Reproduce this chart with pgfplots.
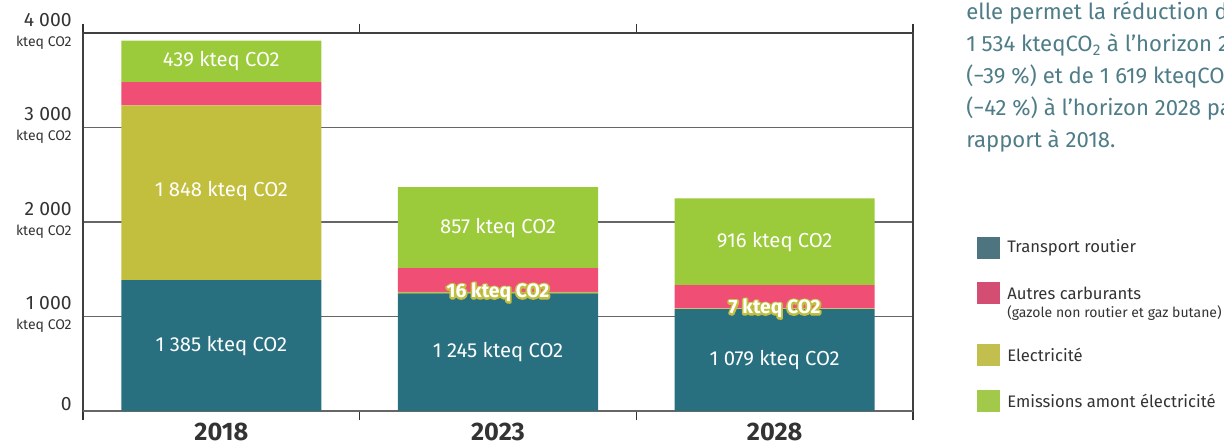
\documentclass[border=0pt]{standalone}
\usepackage{pgfplots}
\pgfplotsset{compat=1.18}
\usepackage{fontspec}
\setmainfont{Fira Sans}
\definecolor{cTrans}{HTML}{287080}
\definecolor{cAutres}{HTML}{F04E74}
\definecolor{cElec}{HTML}{C3BF3E}
\definecolor{cEmis}{HTML}{9BCA3B}
\definecolor{lTrans}{HTML}{4E7480}
\definecolor{lAutres}{HTML}{D34E72}
\definecolor{lElec}{HTML}{C3BF4E}
\definecolor{lEmis}{HTML}{A3C94A}
\definecolor{cText}{HTML}{333333}
\definecolor{cPara}{HTML}{4E7C87}
\definecolor{cGrid}{HTML}{666666}
\newcommand{\kt}{{\fontsize{10.5}{11}\selectfont kteq CO2}}
\newcommand{\strokeon}{\special{pdf:literal direct 1 Tr 2.6 w 1 j 0.765 0.749 0.243 RG}}
\newcommand{\strokeoff}{\special{pdf:literal direct 0 Tr}}
\tikzset{blab/.style={text=white, font=\fontsize{15.2}{16}\selectfont},
         olab/.style={font=\fontsize{14.5}{15}\selectfont\bfseries}}
\begin{document}
\begin{tikzpicture}
\useasboundingbox (0,0) rectangle (918pt,333.75pt);
\clip (0,0) rectangle (918pt,333.75pt);
\begin{axis}[
  at={(62.25pt,25.5pt)}, anchor=south west,
  scale only axis, width=622.5pt, height=283.5pt,
  ybar stacked, bar width=0.723,
  xmin=-0.5, xmax=2.5, ymin=0, ymax=4000,
  xtick={0,1,2}, xticklabels={2018,2023,2028},
  minor xtick={-0.5,0.5,1.5,2.5},
  major tick length=0pt, minor tick length=7pt, tick align=outside,
  minor tick style={draw=black!80, line width=0.8pt},
  ytick={1000,2000,3000,4000},
  yticklabels={{1 000\\\kt}, {2 000\\\kt}, {3 000\\\kt}, {4 000\\\kt}},
  yticklabel style={align=right, font=\fontsize{14.5}{15}\selectfont, text=cText, yshift=1.2pt, xshift=-5pt},
  extra y ticks={0}, extra y tick labels={0},
  extra y tick style={yticklabel style={yshift=3.8pt}},
  xticklabel style={font=\fontsize{19}{20}\selectfont\bfseries, text=cText, inner sep=0pt, yshift=-9pt},
  ymajorgrids, grid style={draw=cGrid, line width=0.8pt},
  axis line style={draw=black!75, line width=0.8pt},
  clip=false,
]
\addplot[fill=cTrans, draw=none] coordinates {(0,1385) (1,1245) (2,1079)};
\addplot[fill=cElec, draw=none] coordinates {(0,1848) (1,16) (2,7)};
\addplot[fill=cAutres, draw=none] coordinates {(0,248) (1,252) (2,247)};
\addplot[fill=cEmis, draw=none] coordinates {(0,439) (1,857) (2,916)};
\coordinate (a1) at (axis cs:0,692);
\coordinate (a2) at (axis cs:0,2330);
\coordinate (a3) at (axis cs:0,3700);
\coordinate (b1) at (axis cs:1,622);
\coordinate (b2) at (axis cs:1,1940);
\coordinate (c1) at (axis cs:2,540);
\coordinate (c2) at (axis cs:2,1790);
\coordinate (l16) at (axis cs:1,1253);
\coordinate (l7) at (axis cs:2,1083);
\end{axis}
\node[blab] at (a1) {1 385 kteq CO2};
\node[blab] at (a2) {1 848 kteq CO2};
\node[blab] at (a3) {439 kteq CO2};
\node[blab] at (b1) {1 245 kteq CO2};
\node[blab] at (b2) {857 kteq CO2};
\node[blab] at (c1) {1 079 kteq CO2};
\node[blab] at (c2) {916 kteq CO2};
\node[olab] at (l16) {\strokeon 16 kteq CO2\strokeoff};
\node[olab, text=white] at (l16) {16 kteq CO2};
\node[olab] at (l7) {\strokeon 7 kteq CO2\strokeoff};
\node[olab, text=white] at (l7) {7 kteq CO2};
\begin{scope}[x=0.75pt, y=-0.75pt, shift={(0,333.75pt)}]
  \begin{scope}[every node/.style={anchor=base west, text=cPara, font=\fontsize{16.6}{17}\selectfont, inner sep=0pt}]
  \node at (966,20) {elle permet la réduction de};
  \node at (966,52) {1 534 kteqCO\textsubscript{2} à l’horizon 2023};
  \node at (966,84) {(−39 \%) et de 1 619 kteqCO\textsubscript{2}};
  \node at (966,116) {(−42 \%) à l’horizon 2028 par};
  \node at (966,148) {rapport à 2018.};
  \end{scope}
  \fill[lTrans] (977,237) rectangle (1000,259);
  \fill[lAutres] (977,282) rectangle (1000,304);
  \fill[lElec] (977,344) rectangle (1000,366);
  \fill[lEmis] (977,390) rectangle (1000,412);
  \begin{scope}[every node/.style={anchor=west, text=cText, font=\fontsize{12.5}{13}\selectfont, inner sep=0pt}]
  \node at (1007,248) {Transport routier};
  \node at (1007,293) {Autres carburants};
  \node[font=\fontsize{10.5}{11}\selectfont] at (1007,313) {(gazole non routier et gaz butane)};
  \node at (1007,355) {Electricité};
  \node at (1007,401) {Emissions amont électricité};
  \end{scope}
\end{scope}
\end{tikzpicture}
\end{document}
